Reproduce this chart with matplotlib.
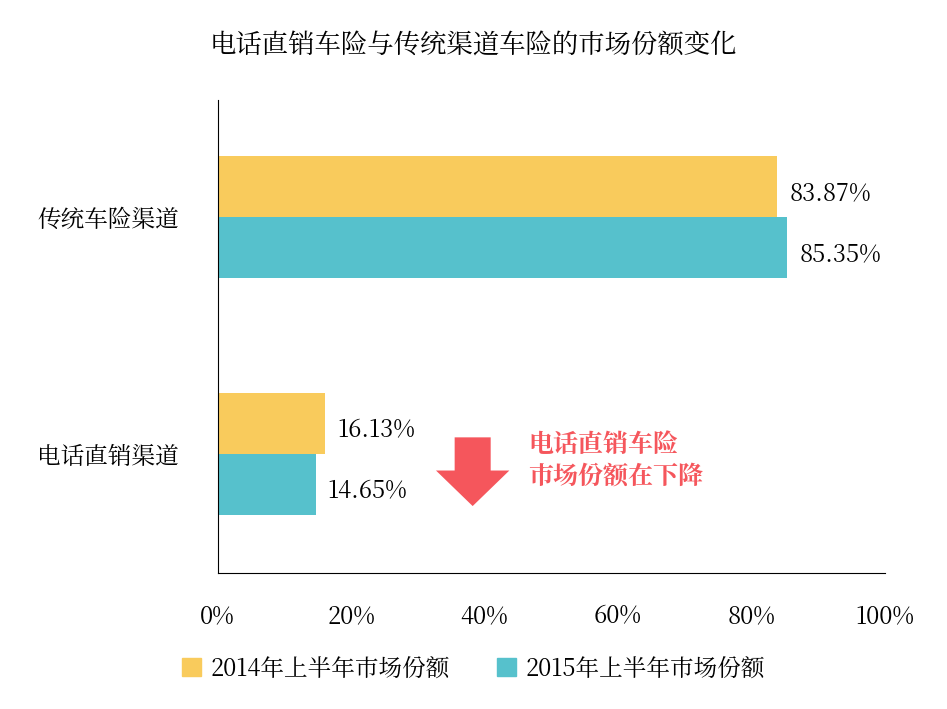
import matplotlib
matplotlib.use("Agg")
import matplotlib.pyplot as plt
from matplotlib import font_manager as fm
from matplotlib.patches import FancyArrow, Patch

cjk = None
for f in fm.fontManager.ttflist:
    if "CJK" in f.name and ("SC" in f.name or cjk is None):
        cjk = f.name
fams = [cjk] if cjk else []
plt.rcParams['font.family'] = fams + ['DejaVu Sans']

categories = ["电话直销渠道", "传统车险渠道"]
s2014 = [16.13, 83.87]
s2015 = [14.65, 85.35]
xticks = [0, 20, 40, 60, 80, 100]
xlabels = ["0%", "20%", "40%", "60%", "80%", "100%"]

yellow = "#F9CB5C"
teal = "#56C1CC"
red = "#F5565C"

fig = plt.figure(figsize=(9.47, 7.09), dpi=100)
ax = fig.add_axes([0.230, 0.192, 0.7045, 0.667])
h = 0.258
ys = [0, 1]
ax.barh([y + h/2 for y in ys], s2014, height=h, color=yellow)
ax.barh([y - h/2 for y in ys], s2015, height=h, color=teal)
for y, v in zip(ys, s2014):
    ax.text(v + 1.8, y + h/2 - 0.03, f"{v:.2f}%", va="center", ha="left", fontsize=17)
for y, v in zip(ys, s2015):
    ax.text(v + 1.8, y - h/2 - 0.03, f"{v:.2f}%", va="center", ha="left", fontsize=17)
ax.set_xlim(0, 100)
ax.set_ylim(-0.502, 1.494)
ax.set_yticks(ys)
ax.set_yticklabels(categories, fontsize=17)
ax.set_xticks(xticks)
ax.set_xticklabels(xlabels, fontsize=17)
ax.tick_params(length=0)
ax.tick_params(axis='x', pad=22)
ax.tick_params(axis='y', pad=28)
for s in ["top", "right"]:
    ax.spines[s].set_visible(False)
ax.spines["left"].set_color("black")
ax.spines["bottom"].set_color("black")

ax.add_patch(FancyArrow(38.2, 0.07, 0, -0.29, width=5.4, head_width=11.0,
                        head_length=0.15, length_includes_head=True,
                        color=red, lw=0))
ax.text(46.5, -0.03, "电话直销车险\n市场份额在下降", color=red, fontsize=18,
        fontweight="bold", va="center", ha="left", linespacing=1.15)

fig.text(0.5, 0.935, "电话直销车险与传统渠道车险的市场份额变化", ha="center",
         va="center", fontsize=19)
fig.legend(handles=[Patch(color=yellow), Patch(color=teal)],
           labels=["2014年上半年市场份额", "2015年上半年市场份额"],
           loc="center", bbox_to_anchor=(0.5, 0.058), ncol=2, frameon=False,
           fontsize=17, handlelength=0.8, handleheight=0.8, columnspacing=2.0,
           handletextpad=0.4)
fig.savefig("out.png", dpi=100)
